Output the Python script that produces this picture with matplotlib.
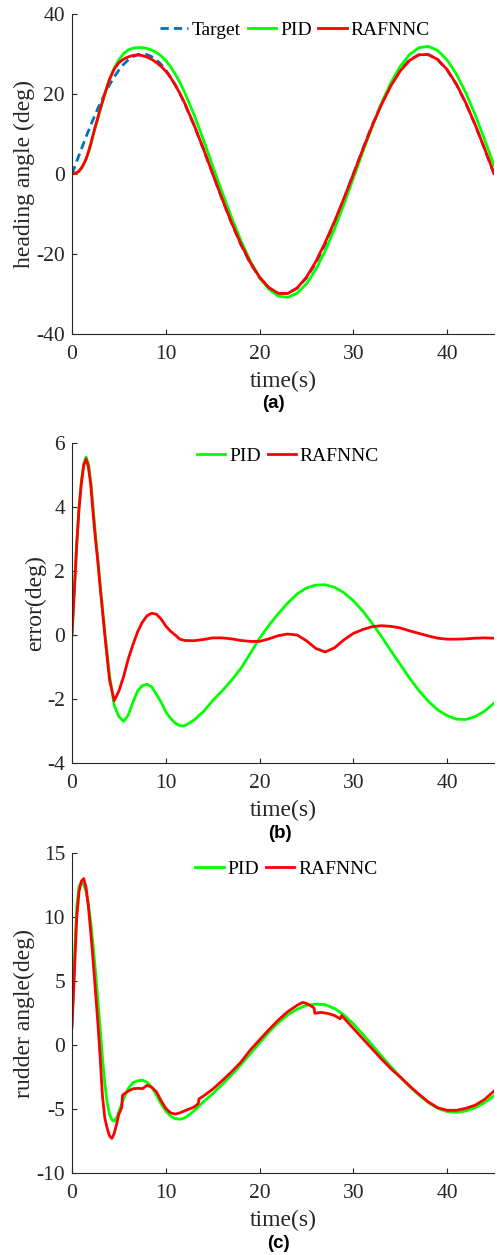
import matplotlib
matplotlib.use("Agg")
import matplotlib.pyplot as plt

# ---------------------------------------------------------------------------
# Data
# ---------------------------------------------------------------------------
xticks = [0, 10, 20, 30, 40]

# time base for heading angle and error (s)
t_main = [0, 0.25, 0.5, 0.75, 1, 1.25, 1.5, 1.75, 2, 2.25, 2.5, 2.75, 3,
          3.5, 4, 4.5, 5, 5.5, 6, 6.5, 7, 7.5, 8, 8.5, 9, 9.5, 10, 10.5, 11, 11.5, 12,
          13, 14, 15, 16, 17, 18, 19, 20, 21, 22, 23, 24, 25, 26, 27, 28, 29, 30,
          31, 32, 33, 34, 35, 36, 37, 38, 39, 40, 41, 42, 43, 44, 45]

heading_target = [0, 1.57, 3.14, 4.69, 6.24, 7.76, 9.27, 10.75, 12.20, 13.62, 15.00, 16.34, 17.63,
                  20.08, 22.30, 24.27, 25.98, 27.41, 28.53, 29.34, 29.84, 30.00, 29.84, 29.34, 28.53,
                  27.41, 25.98, 24.27, 22.30, 20.08, 17.63,
                  12.20, 6.24, 0, -6.24, -12.20, -17.63, -22.30, -25.98, -28.53, -29.84, -29.84,
                  -28.53, -25.98, -22.30, -17.63, -12.20, -6.24, 0, 6.24, 12.20, 17.63, 22.30,
                  25.98, 28.53, 29.84, 29.84, 28.53, 25.98, 22.30, 17.63, 12.20, 6.24, 0]

heading_pid = [0, 0.17, 0.29, 0.69, 1.44, 2.41, 3.71, 5.40, 7.40, 9.62, 11.85, 13.94, 16.03,
               19.98, 23.55, 26.47, 28.53, 30.11, 31.03, 31.44, 31.59, 31.58, 31.38, 30.99, 30.38,
               29.51, 28.38, 26.87, 25.05, 22.91, 20.47,
               14.90, 8.64, 2.05, -4.49, -10.78, -16.58, -21.72, -25.88, -28.83, -30.51, -30.84,
               -29.81, -27.45, -23.86, -19.20, -13.69, -7.56, -1.07, 5.49, 11.83, 17.68, 22.79,
               26.90, 29.88, 31.58, 31.91, 30.87, 28.50, 24.93, 20.27, 14.75, 8.62, 2.13]

heading_rafnnc = [0, 0.17, 0.34, 0.74, 1.49, 2.46, 3.77, 5.50, 7.50, 9.82, 12.00, 14.04, 16.13,
                  20.08, 23.70, 26.27, 27.83, 28.71, 29.28, 29.64, 29.74, 29.60, 29.24, 28.66, 27.88,
                  26.91, 25.70, 24.15, 22.30, 20.21, 17.80,
                  12.38, 6.38, 0.09, -6.15, -12.08, -17.46, -22.10, -25.78, -28.41, -29.82, -29.87,
                  -28.53, -25.80, -21.88, -17.10, -11.80, -6.09, -0.05, 6.07, 11.94, 17.34, 22.03,
                  25.76, 28.40, 29.79, 29.87, 28.63, 26.11, 22.43, 17.75, 12.30, 6.33, 0.10]

error_pid = [0, 1.40, 2.85, 4.00, 4.80, 5.35, 5.56, 5.35, 4.80, 4.00, 3.15, 2.40, 1.60,
             0.10, -1.25, -2.20, -2.55, -2.70, -2.50, -2.10, -1.75, -1.58, -1.54, -1.62, -1.85,
             -2.10, -2.40, -2.60, -2.75, -2.83, -2.84,
             -2.66, -2.40, -2.05, -1.75, -1.42, -1.05, -0.58, -0.10, 0.30, 0.67, 1.00, 1.28,
             1.47, 1.56, 1.57, 1.49, 1.32, 1.07, 0.75, 0.37, -0.05, -0.49, -0.92, -1.35, -1.74,
             -2.07, -2.34, -2.52, -2.63, -2.64, -2.55, -2.38, -2.13]

error_rafnnc = [0, 1.40, 2.80, 3.95, 4.75, 5.30, 5.50, 5.25, 4.70, 3.80, 3.00, 2.30, 1.50,
                0.00, -1.40, -2.05, -1.75, -1.30, -0.75, -0.30, 0.10, 0.40, 0.60, 0.68, 0.65,
                0.50, 0.28, 0.12, 0.00, -0.13, -0.17,
                -0.18, -0.14, -0.09, -0.09, -0.12, -0.17, -0.20, -0.20, -0.12, -0.02, 0.03, 0.00,
                -0.18, -0.42, -0.53, -0.40, -0.15, 0.05, 0.17, 0.26, 0.29, 0.27, 0.22, 0.13, 0.05,
                -0.03, -0.10, -0.13, -0.13, -0.12, -0.10, -0.09, -0.10]

# rudder angle, PID (s, deg)
t_rudder_pid = [0, 0.25, 0.5, 0.75, 1, 1.25, 1.5, 1.75, 2, 2.25, 2.5, 2.75, 3, 3.25, 3.5,
                3.75, 4, 4.25, 4.5, 4.75, 5,
                5.5, 6, 6.5, 7, 7.5, 8, 8.5, 9, 9.5, 10, 10.5, 11, 11.5, 12, 12.5, 13,
                14, 15, 16, 17, 18, 19, 20, 21, 22, 23, 24, 25, 26, 27, 28, 29, 30,
                31, 32, 33, 34, 35, 36, 37, 38, 39, 40, 41, 42, 43, 44, 45]
rudder_pid = [1.6, 6.5, 10.8, 12.4, 12.7, 12.5, 12.0, 11.0, 9.6, 7.8, 5.8, 3.6, 1.3, -1.0, -3.0,
              -4.5, -5.4, -5.85, -5.95, -5.7, -5.2,
              -4.2, -3.4, -2.95, -2.8, -2.75, -2.9, -3.3, -3.9, -4.6, -5.15, -5.55, -5.75, -5.8,
              -5.7, -5.45, -5.15,
              -4.45, -3.8, -3.1, -2.35, -1.55, -0.7, 0.15, 1.0, 1.75, 2.35, 2.8, 3.1, 3.2, 3.15,
              2.85, 2.35, 1.65, 0.85, 0.0, -0.85, -1.7, -2.5, -3.25, -3.9, -4.5, -4.95, -5.2,
              -5.26, -5.15, -4.9, -4.5, -3.96]

# rudder angle, RAFNNC (s, deg)
t_rudder_rafnnc = [0, 0.25, 0.5, 0.75, 1, 1.25, 1.5, 1.75, 2, 2.25, 2.5, 2.75, 3, 3.25, 3.5,
                   3.75, 4, 4.25, 4.5, 4.75, 5, 5.3, 5.38, 5.5, 6, 6.5, 7, 7.5, 8, 8.5, 9, 9.5,
                   10, 10.5, 11, 11.5, 12, 12.5, 13, 13.45, 13.55, 14, 15, 16, 17, 18, 19, 20,
                   21, 22, 23, 24, 24.6, 25, 25.6, 25.8, 25.9, 26.5, 27, 27.5, 28, 28.6, 28.75,
                   29, 30, 31, 32, 33, 34, 35, 36, 37, 38, 39, 40, 41, 42, 43, 44, 45]
rudder_rafnnc = [1.4, 5.5, 9.9, 12.0, 12.8, 13.0, 12.3, 10.8, 8.8, 6.6, 4.2, 1.8, -0.9, -4.0, -5.7,
                 -6.5, -7.1, -7.3, -6.9, -6.2, -5.4, -4.9, -3.95, -3.85, -3.6, -3.42, -3.38, -3.42,
                 -3.15, -3.3, -3.65, -4.35, -4.95, -5.3, -5.4, -5.3, -5.15, -5.0, -4.85, -4.6, -4.2,
                 -4.0, -3.45, -2.8, -2.1, -1.35, -0.4, 0.4, 1.2, 1.95, 2.6, 3.1, 3.33, 3.25, 3.0,
                 2.9, 2.47, 2.55, 2.5, 2.42, 2.3, 2.05, 2.3, 2.1, 1.3, 0.5, -0.3, -1.1, -1.85,
                 -2.5, -3.2, -3.85, -4.45, -4.9, -5.1, -5.1, -4.95, -4.7, -4.25, -3.6]

# ---------------------------------------------------------------------------
# Style
# ---------------------------------------------------------------------------
plt.rcParams['font.family'] = ['Liberation Serif', 'DejaVu Serif']
plt.rcParams['axes.unicode_minus'] = False

C_TARGET = '#0072BD'
C_PID = '#00FF00'
C_RAF = '#FF0000'
AX_COL = '#262626'
LW = 2.0

fig = plt.figure(figsize=(4.97, 12.55), dpi=100)
L, W, H = 72 / 497, 422 / 497, 320 / 1255
bottoms = [1 - 334 / 1255, 1 - 763 / 1255, 1 - 1173 / 1255]
ax_a, ax_b, ax_c = [fig.add_axes([L, b, W, H]) for b in bottoms]


def style(ax, ylim, yticks, ylabel):
    ax.set_xlim(0, 45)
    ax.set_ylim(*ylim)
    ax.set_xticks(xticks)
    ax.set_yticks(yticks)
    for s in ('top', 'right'):
        ax.spines[s].set_visible(False)
    for s in ('left', 'bottom'):
        ax.spines[s].set_linewidth(0.8)
        ax.spines[s].set_color(AX_COL)
    ax.tick_params(direction='in', length=3.5, width=0.8, colors=AX_COL,
                   labelsize=15.5)
    ax.tick_params(axis='x', pad=8.0)
    ax.tick_params(axis='y', pad=5)
    ax.set_xlabel('time(s)', fontsize=17, color=AX_COL, labelpad=5)
    ax.set_ylabel(ylabel, fontsize=17, color=AX_COL, labelpad=1)


def legend(ax, x, y):
    ax.legend(loc='center', bbox_to_anchor=(x, y), ncol=3, frameon=False,
              fontsize=14, handlelength=1.45, handletextpad=0.2,
              columnspacing=0.35, borderpad=0)


# (a) heading angle
ax_a.plot(t_main, heading_target, color=C_TARGET, lw=LW, dashes=(3.0, 1.8), label='Target')
ax_a.plot(t_main, heading_pid, color=C_PID, lw=LW, label='PID')
ax_a.plot(t_main, heading_rafnnc, color=C_RAF, lw=LW, label='RAFNNC')
style(ax_a, (-40, 40), [-40, -20, 0, 20, 40], 'heading angle (deg)')
legend(ax_a, 0.528, 0.95)

# (b) tracking error
ax_b.plot(t_main, error_pid, color=C_PID, lw=LW, label='PID')
ax_b.plot(t_main, error_rafnnc, color=C_RAF, lw=LW, label='RAFNNC')
style(ax_b, (-4, 6), [-4, -2, 0, 2, 4, 6], 'error(deg)')
legend(ax_b, 0.512, 0.959)

# (c) rudder angle
ax_c.plot(t_rudder_pid, rudder_pid, color=C_PID, lw=LW, label='PID')
ax_c.plot(t_rudder_rafnnc, rudder_rafnnc, color=C_RAF, lw=LW, label='RAFNNC')
style(ax_c, (-10, 15), [-10, -5, 0, 5, 10, 15], 'rudder angle(deg)')
legend(ax_c, 0.508, 0.95)

# sub-figure captions
for txt, x, y in (('(a)', 273, 404), ('(b)', 280, 833), ('(c)', 278, 1243)):
    fig.text(x / 497, 1 - y / 1255, txt, ha='center', va='center',
             family=['Liberation Sans', 'DejaVu Sans'], weight='bold', fontsize=13.5)

fig.savefig('out.png', dpi=100)
